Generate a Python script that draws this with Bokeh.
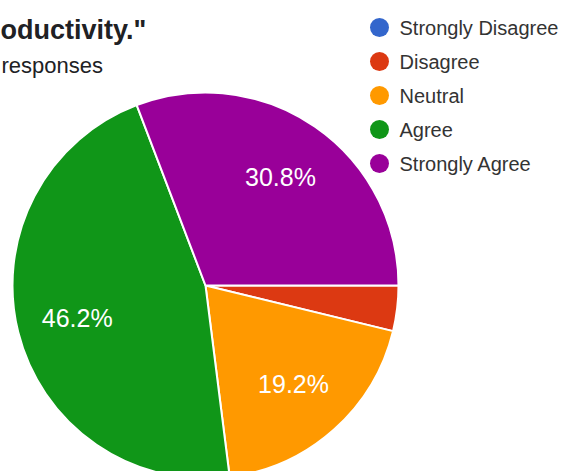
import math
from bokeh.plotting import figure
from bokeh.models import Range1d, ColumnDataSource
from bokeh.core.properties import value
from bokeh.embed import file_html
from bokeh.resources import INLINE

# ---- data ----
categories = ["Strongly Disagree", "Disagree", "Neutral", "Agree", "Strongly Agree"]
percents = [0.0, 3.8, 19.2, 46.2, 30.8]
colors = ["#3366cc", "#dc3912", "#ff9900", "#109618", "#990099"]
title_text = 'oductivity."'
subtitle_text = "responses"

W, H = 569, 471
FONT = "Liberation Sans"

p = figure(width=W, height=H, output_backend="svg", toolbar_location=None,
           x_range=Range1d(0, W), y_range=Range1d(0, H), min_border=0)
p.axis.visible = False
p.grid.visible = False
p.outline_line_color = None
p.background_fill_color = "white"
p.border_fill_color = "white"

# ---- pie ----
cx, cy, R = 205, H - 285, 193
total = sum(percents)
starts, ends, mids = [], [], []
acc = 0.0
for v in percents:
    a0 = -2 * math.pi * acc / total
    acc += v
    a1 = -2 * math.pi * acc / total
    starts.append(a0)
    ends.append(a1)
    mids.append((a0 + a1) / 2)

src = ColumnDataSource(dict(start=starts, end=ends, color=colors, cat=categories))
p.wedge(x=cx, y=cy, radius=R, start_angle="start", end_angle="end",
        direction="clock", fill_color="color", line_color="white",
        line_width=2, source=src)

# slice labels
lx, ly, lt = [], [], []
for v, m in zip(percents, mids):
    if v >= 5:
        lx.append(cx + 0.685 * R * math.cos(m))
        ly.append(cy + 0.685 * R * math.sin(m))
        lt.append(f"{v:.1f}%")
p.text(x=lx, y=ly, text=lt, text_color="white", text_font=value(FONT),
       text_font_size="25px", text_align="center", text_baseline="middle")

# ---- title (cropped) ----
p.text(x=[0], y=[H - 29], text=[title_text], text_color="#202124",
       text_font=value(FONT), text_font_size="27px", text_font_style="bold",
       text_align="left", text_baseline="alphabetic")
p.text(x=[1], y=[H - 65], text=[subtitle_text], text_color="#202124",
       text_font=value(FONT), text_font_size="22px",
       text_align="left", text_baseline="alphabetic")

# ---- legend ----
ly0, dy = 27, 34
leg_y = [H - (ly0 + i * dy) for i in range(len(categories))]
p.scatter(x=[379] * len(categories), y=leg_y, size=19, marker="circle",
          fill_color=colors, line_color=None)
p.text(x=[399] * len(categories), y=leg_y, text=categories, text_color="#333333",
       text_font=value(FONT), text_font_size="20px", text_align="left",
       text_baseline="middle")

open("out.html", "w").write(file_html(p, INLINE))
